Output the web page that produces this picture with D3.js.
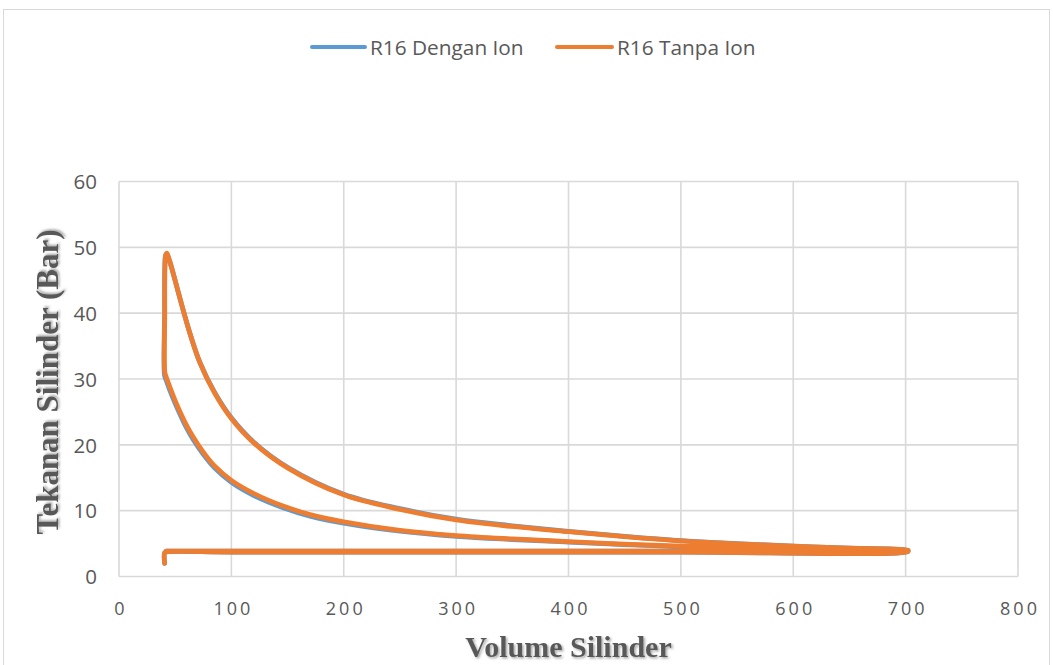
<!DOCTYPE html>
<html>
<head>
<meta charset="utf-8">
<script src="https://cdn.jsdelivr.net/npm/d3@7/dist/d3.min.js"></script>
<style>
  html, body { margin: 0; padding: 0; background: #fff; }
  svg { display: block; }
</style>
</head>
<body>
<svg id="chart" width="1053" height="665"></svg>
<script>
// ---- data ----
const seriesNames = ["R16 Dengan Ion", "R16 Tanpa Ion"];
const xTicks = [0, 100, 200, 300, 400, 500, 600, 700, 800];
const yTicks = [0, 10, 20, 30, 40, 50, 60];

// Volume / pressure path of the cycle: hook, intake, compression, combustion, expansion, exhaust
const volTanpa = [40.6, 40.6, 42, 100, 300, 500, 702,
  702, 650, 600, 550, 500, 450, 400, 350, 300, 250, 200, 170, 146, 120, 100, 85, 75, 66, 60, 51, 45, 42, 40.8,
  40.7, 40.9, 41.6, 42.6, 43.8, 46, 48.3, 54.3, 63, 72, 85, 100, 120, 150, 200, 250, 300, 350, 400, 450, 500, 550, 600, 650, 702,
  702, 600, 400, 200, 42];
const presTanpa = [2.0, 3.6, 3.72, 3.72, 3.72, 3.72, 3.8,
  3.95, 4.1, 4.25, 4.4, 4.6, 4.9, 5.3, 5.7, 6.2, 7.0, 8.3, 9.4, 10.7, 12.6, 14.6, 16.8, 18.9, 21.2, 23.0, 26.3, 28.9, 30.3, 31.0,
  40.0, 47.3, 48.8, 49.1, 48.6, 47.4, 46.0, 42.2, 37.0, 32.5, 27.9, 24.0, 20.3, 16.5, 12.4, 10.2, 8.6, 7.6, 6.8, 6.05, 5.4, 4.95, 4.6, 4.3, 4.0,
  3.9, 3.85, 3.85, 3.85, 3.85];

const volDengan = [40.6, 40.6, 42, 100, 300, 500, 702,
  702, 650, 600, 550, 500, 450, 400, 350, 300, 250, 200, 170, 146, 120, 100, 85, 75, 66, 60, 51, 45, 42, 40.5,
  40.6, 40.8, 41.5, 42.5, 43.7, 46, 48.3, 54.3, 63, 72, 85, 100, 120, 150, 200, 250, 300, 350, 400, 450, 500, 550, 600, 650, 702,
  702, 600, 400, 200, 42];
const presDengan = [2.0, 3.6, 3.72, 3.72, 3.72, 3.72, 3.8,
  3.95, 4.08, 4.22, 4.36, 4.55, 4.85, 5.23, 5.62, 6.1, 6.88, 8.12, 9.18, 10.45, 12.3, 14.3, 16.5, 18.55, 20.8, 22.6, 25.9, 28.4, 29.8, 30.6,
  40.0, 47.2, 48.8, 49.0, 48.6, 47.4, 46.0, 42.2, 37.0, 32.5, 28.0, 24.1, 20.4, 16.6, 12.5, 10.3, 8.7, 7.7, 6.85, 6.1, 5.45, 4.98, 4.62, 4.3, 4.0,
  3.9, 3.85, 3.85, 3.85, 3.85];

const colors = ["#5B9BD5", "#ED7D31"];

// ---- layout ----
const svg = d3.select("#chart");
const pLeft = 119, pRight = 1018, pTop = 181.5, pBottom = 576.5;

const x = d3.scaleLinear().domain([0, 800]).range([pLeft, pRight]);
const y = d3.scaleLinear().domain([0, 60]).range([pBottom, pTop]);

// chart border
svg.append("rect").attr("x", 3.5).attr("y", 9.5).attr("width", 1046).attr("height", 670)
  .attr("fill", "none").attr("stroke", "#D9D9D9").attr("stroke-width", 1);

// gridlines
const grid = svg.append("g");
grid.selectAll(".gx").data(xTicks).join("line")
  .attr("x1", d => x(d)).attr("x2", d => x(d)).attr("y1", pTop).attr("y2", pBottom)
  .attr("stroke", "#D9D9D9").attr("stroke-width", 1.6);
grid.selectAll(".gy").data(yTicks).join("line")
  .attr("x1", pLeft).attr("x2", pRight).attr("y1", d => y(d)).attr("y2", d => y(d))
  .attr("stroke", "#D9D9D9").attr("stroke-width", 1.6);

// axes (labels only)
const xAxis = d3.axisBottom(x).tickValues(xTicks).tickSize(0).tickPadding(0);
const gx = svg.append("g").attr("transform", `translate(0,${pBottom})`).call(xAxis);
gx.select(".domain").remove();
gx.selectAll("text")
  .attr("y", 38).attr("dy", 0).attr("dx", 1.5)
  .attr("font-family", "Open Sans, sans-serif").attr("font-size", 18)
  .attr("letter-spacing", 3).attr("fill", "#595959");

const yAxis = d3.axisLeft(y).tickValues(yTicks).tickSize(0).tickPadding(0);
const gy = svg.append("g").attr("transform", `translate(97,0)`).call(yAxis);
gy.select(".domain").remove();
gy.selectAll("text")
  .attr("x", 0).attr("dy", "0.35em")
  .attr("font-family", "Open Sans, sans-serif").attr("font-size", 20.5)
  .attr("fill", "#595959");

// shadow filter for titles
const defs = svg.append("defs");
const f = defs.append("filter").attr("id", "shadow").attr("x", "-10%").attr("y", "-30%").attr("width", "120%").attr("height", "160%");
f.append("feDropShadow").attr("dx", 1.5).attr("dy", 1.5).attr("stdDeviation", 1.2)
  .attr("flood-color", "#000").attr("flood-opacity", 0.35);

svg.append("text").text("Volume Silinder")
  .attr("x", (pLeft + pRight) / 2).attr("y", 657)
  .attr("text-anchor", "middle")
  .attr("font-family", "Liberation Serif, Times New Roman, serif").attr("font-weight", "bold")
  .attr("font-size", 30).attr("fill", "#595959").attr("filter", "url(#shadow)");

svg.append("text").text("Tekanan Silinder (Bar)")
  .attr("transform", `translate(58,${(pTop + pBottom) / 2 + 3}) rotate(-90)`)
  .attr("text-anchor", "middle")
  .attr("font-family", "Liberation Serif, Times New Roman, serif").attr("font-weight", "bold")
  .attr("font-size", 31).attr("fill", "#595959").attr("filter", "url(#shadow)");

// series
const series = [
  { name: seriesNames[0], v: volDengan, p: presDengan },
  { name: seriesNames[1], v: volTanpa, p: presTanpa }
];
const line = d3.line().x(d => x(d[0])).y(d => y(d[1])).curve(d3.curveCatmullRom.alpha(0.5));

svg.append("g").selectAll("path").data(series).join("path")
  .attr("d", s => line(s.v.map((v, i) => [v, s.p[i]])))
  .attr("fill", "none")
  .attr("stroke", (s, i) => colors[i])
  .attr("stroke-width", 4.8)
  .attr("stroke-linejoin", "round")
  .attr("stroke-linecap", "round");

// legend
const legendPos = [{ x1: 312, x2: 365, tx: 370 }, { x1: 557, x2: 612, tx: 617 }];
const lg = svg.append("g");
series.forEach((s, i) => {
  const p = legendPos[i];
  lg.append("line").attr("x1", p.x1).attr("x2", p.x2).attr("y1", 47).attr("y2", 47)
    .attr("stroke", colors[i]).attr("stroke-width", 4).attr("stroke-linecap", "round");
  lg.append("text").text(s.name).attr("x", p.tx).attr("y", 48).attr("dy", "0.35em")
    .attr("font-family", "Open Sans, sans-serif").attr("font-size", 20.8)
    .attr("fill", "#595959");
});
</script>
</body>
</html>
